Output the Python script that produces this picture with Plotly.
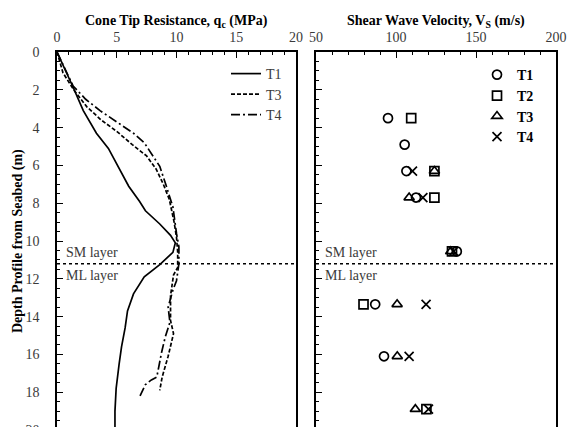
import plotly.graph_objects as go

# ---------------- data ----------------
# Cone tip resistance profiles: q_c (MPa) vs depth (m)
t1_qc = [0, 0.6, 1.3, 2.2, 3.3, 4.3, 5.2, 6.0, 6.9, 7.4, 8.6, 9.5, 9.9, 9.7, 8.6, 7.3, 6.4, 5.9, 5.7, 5.4, 5.2, 4.95, 4.85, 4.85]
t1_depth = [0, 0.8, 1.8, 3.1, 4.3, 5.1, 6.2, 7.1, 7.9, 8.4, 9.1, 9.7, 10.1, 10.6, 11.25, 11.9, 12.8, 13.7, 14.6, 15.6, 16.5, 17.8, 19.0, 20.3]

t3_qc = [0, 0.2, 0.5, 1.4, 2.5, 3.7, 5.0, 6.3, 7.5, 8.3, 8.9, 9.4, 9.8, 10.0, 10.1, 10.1, 9.75, 9.5, 9.5, 9.75, 9.3, 8.8, 8.6]
t3_depth = [0, 0.5, 1.1, 2.0, 2.9, 3.6, 4.2, 4.9, 5.5, 6.2, 7.0, 7.8, 9.0, 9.8, 10.6, 11.4, 11.8, 12.9, 14.2, 14.9, 16.1, 17.2, 17.9]

t4_qc = [0, 0.6, 1.35, 2.4, 3.6, 5.0, 6.4, 7.3, 7.9, 8.6, 9.1, 9.7, 10.0, 10.2, 10.2, 10.0, 9.7, 9.3, 9.45, 9.05, 8.75, 8.5, 8.35, 7.9, 7.4, 6.95]
t4_depth = [0, 0.8, 1.8, 2.5, 3.1, 3.7, 4.3, 4.8, 5.35, 6.05, 7.0, 8.2, 9.6, 10.3, 11.2, 12.1, 12.6, 13.5, 14.3, 15.1, 15.9, 16.7, 17.2, 17.35, 17.6, 18.2]

# Shear wave velocity: V_s (m/s) vs depth (m)
vs_t1 = [95.0, 105.4, 106.5, 112.5, 138.0, 87.0, 92.5]
vs_t1_depth = [3.5, 4.9, 6.3, 7.7, 10.55, 13.35, 16.1]

vs_t2 = [109.5, 124.0, 124.0, 135.0, 79.7, 119.0]
vs_t2_depth = [3.5, 6.3, 7.7, 10.55, 13.35, 18.9]

vs_t3 = [124.0, 108.2, 134.2, 100.7, 100.8, 112.1]
vs_t3_depth = [6.3, 7.7, 10.55, 13.35, 16.1, 18.9]

vs_t4 = [110.3, 116.8, 136.0, 118.8, 108.2, 120.3]
vs_t4_depth = [6.3, 7.7, 10.55, 13.35, 16.1, 18.9]

layer_boundary_depth = 11.2
layer_labels = ["SM layer", "ML layer"]

# ---------------- figure ----------------
W, H = 577, 427
OFF = 8  # page body margin of the browser
FONT = "Liberation Serif"
TICK_COLOR = "#3a3a3a"


def fx(v):  # visible pixel x -> paper fraction
    return (v - OFF) / W


def fy(v):  # visible pixel y -> paper fraction
    return 1 - (v - OFF) / H


fig = go.Figure()

line_w = 1.7
cpt = [(t1_qc, t1_depth, "T1", "solid", 74),
       (t3_qc, t3_depth, "T3", "4px,2px", 94.5),
       (t4_qc, t4_depth, "T4", "9px,3px,2px,3px", 115)]
legends = {}
n = 1
for q, d, nm, dash, ly in cpt:
    key = "legend" if n == 1 else "legend%d" % n
    fig.add_trace(go.Scatter(x=q, y=d, mode="lines", name=nm, showlegend=True,
                             line=dict(color="black", width=line_w, dash=dash),
                             xaxis="x", yaxis="y", legend=key))
    legends[key] = dict(x=fx(226), y=fy(ly), xanchor="left", yanchor="middle",
                        bgcolor="rgba(0,0,0,0)",
                        font=dict(family=FONT, size=14, color=TICK_COLOR))
    n += 1

mk = dict(color="black", size=9, line=dict(color="black", width=1.7))
vs = [(vs_t1, vs_t1_depth, "T1", "circle-open", 75),
      (vs_t2, vs_t2_depth, "T2", "square-open", 96),
      (vs_t3, vs_t3_depth, "T3", "triangle-up-open", 116.5),
      (vs_t4, vs_t4_depth, "T4", "x-thin-open", 137)]
for vals, deps, nm, sym, ly in vs:
    key = "legend%d" % n
    fig.add_trace(go.Scatter(x=vals, y=deps, mode="markers", name="<b>" + nm + "</b>",
                             showlegend=True, marker=dict(symbol=sym, **mk),
                             xaxis="x2", yaxis="y2", legend=key))
    legends[key] = dict(x=fx(477), y=fy(ly), xanchor="left", yanchor="middle",
                        bgcolor="rgba(0,0,0,0)",
                        font=dict(family=FONT, size=14, color="black"))
    n += 1

common = dict(showline=True, linecolor="black", linewidth=1.5, showgrid=False,
              zeroline=False, ticks="inside", ticklen=6, tickwidth=1.2,
              tickcolor="black", automargin=False, ticklabeloverflow="allow",
              tickfont=dict(family=FONT, size=14, color=TICK_COLOR))
minor_style = dict(ticks="inside", ticklen=3, tickwidth=1, tickcolor="black")

y_top = fy(52)
y_range = [(H + OFF - 52) / 18.9, 0]

fig.update_layout(
    width=W, height=H,
    margin=dict(l=0, r=0, t=0, b=0),
    showlegend=True,
    paper_bgcolor="white", plot_bgcolor="white",
    font=dict(family=FONT, size=14, color=TICK_COLOR),
    xaxis=dict(domain=[fx(57), fx(296)], range=[0, 20], side="top", anchor="y",
               tick0=0, dtick=5, minor=dict(dtick=1, **minor_style),
               ticklabelstandoff=3, **common),
    yaxis=dict(domain=[0, y_top], range=y_range, anchor="x", mirror=True,
               tick0=0, dtick=2, minor=dict(dtick=0.5, **minor_style),
               ticklabelstandoff=13, **common),
    xaxis2=dict(domain=[fx(316), fx(556)], range=[50, 200], side="top", anchor="y2",
                tick0=50, dtick=50, minor=dict(dtick=10, **minor_style),
                ticklabelstandoff=3, **common),
    yaxis2=dict(domain=[0, y_top], range=y_range, anchor="x2", mirror=True,
                tick0=0, dtick=2, minor=dict(dtick=0.5, **minor_style),
                showticklabels=False, **common),
    **legends,
)

# axis titles
fig.add_annotation(text="<b>Cone Tip Resistance, q<sub>c</sub> (MPa)</b>",
                   xref="x domain", yref="paper", x=0.5, y=fy(21),
                   xanchor="center", yanchor="middle", showarrow=False,
                   font=dict(family=FONT, size=14, color="black"))
fig.add_annotation(text="<b>Shear Wave Velocity, V<sub>S</sub> (m/s)</b>",
                   xref="x2 domain", yref="paper", x=0.5, y=fy(21),
                   xanchor="center", yanchor="middle", showarrow=False,
                   font=dict(family=FONT, size=14, color="black"))
fig.add_annotation(text="<b>Depth Profile from Seabed (m)</b>",
                   xref="paper", yref="paper", x=fx(18), y=fy(241), textangle=-90,
                   xanchor="center", yanchor="middle", showarrow=False,
                   font=dict(family=FONT, size=14, color="black"))

# layer boundary (dotted) in both panels
for xr, yr in [("x domain", "y"), ("x2 domain", "y2")]:
    fig.add_shape(type="line", xref=xr, yref=yr, x0=0, x1=1,
                  y0=layer_boundary_depth, y1=layer_boundary_depth,
                  line=dict(color="black", width=1.5, dash="dot"))
    fig.add_annotation(text=layer_labels[0], xref=xr, yref=yr, x=0.03,
                       y=layer_boundary_depth, yshift=11, xanchor="left", yanchor="middle",
                       showarrow=False, font=dict(family=FONT, size=14, color=TICK_COLOR))
    fig.add_annotation(text=layer_labels[1], xref=xr, yref=yr, x=0.03,
                       y=layer_boundary_depth, yshift=-12, xanchor="left", yanchor="middle",
                       showarrow=False, font=dict(family=FONT, size=14, color=TICK_COLOR))

fig.write_html("out.html")
